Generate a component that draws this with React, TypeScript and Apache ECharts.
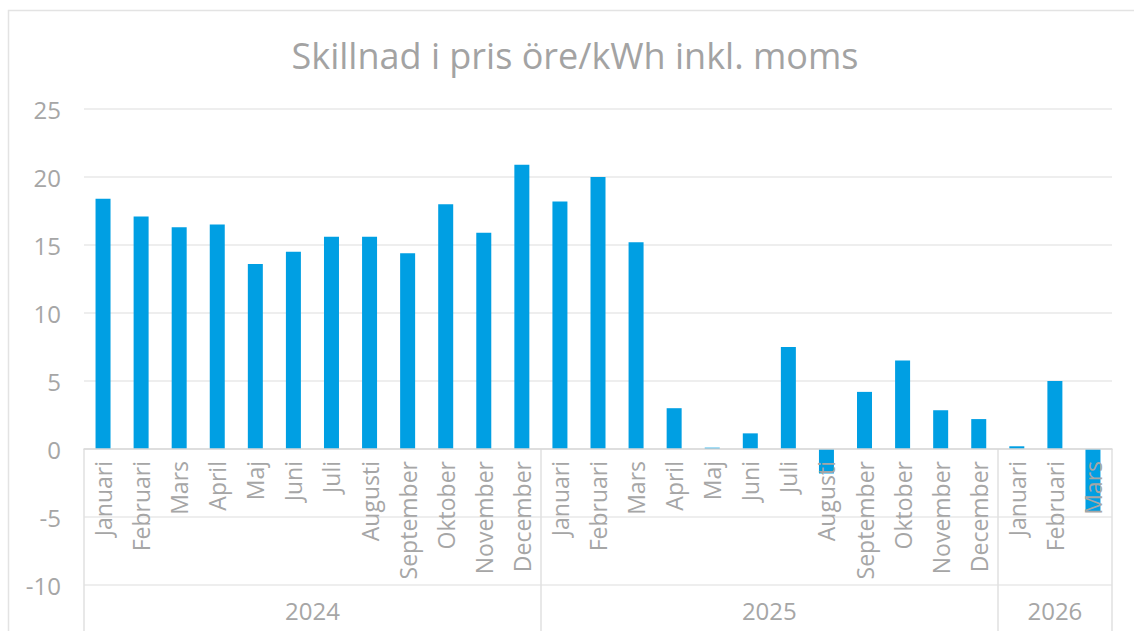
import React, { useEffect, useRef } from "react";
import * as echarts from "echarts";

const TITLE = "Skillnad i pris öre/kWh inkl. moms";
const MONTHS = ["Januari", "Februari", "Mars", "April", "Maj", "Juni", "Juli", "Augusti", "September", "Oktober", "November", "December"];
const YEARS = ["2024", "2025", "2026"];
const YEAR_MONTHS = [12, 12, 3];
const VALUES_2024 = [18.4, 17.1, 16.3, 16.5, 13.6, 14.5, 15.6, 15.6, 14.4, 18.0, 15.9, 20.9];
const VALUES_2025 = [18.2, 20.0, 15.2, 3.0, 0.1, 1.15, 7.5, -1.8, 4.2, 6.5, 2.85, 2.2];
const VALUES_2026 = [0.2, 5.0, -4.6];
const Y_MIN = -10;
const Y_MAX = 25;
const Y_STEP = 5;

const FONT = "'Open Sans', 'Noto Sans', sans-serif";
const GRAY = "#a6a6a6";
const SEP = { color: "#e0e0e0", width: 1.5 };
const GRID_TOP = 109;
const GRID_BOTTOM = 46;
const HEIGHT = 631;

export default function App() {
  const ref = useRef<HTMLDivElement>(null);
  useEffect(() => {
    if (!ref.current) return;
    const chart = echarts.init(ref.current, null, { renderer: "svg" });
    const categories: string[] = [];
    YEAR_MONTHS.forEach((n) => {
      for (let i = 0; i < n; i++) categories.push(MONTHS[i]);
    });
    const values = [...VALUES_2024, ...VALUES_2025, ...VALUES_2026];
    const bounds: number[] = [0];
    const centers: number[] = [];
    let acc = 0;
    YEAR_MONTHS.forEach((n) => {
      centers.push(acc + n / 2);
      acc += n;
      bounds.push(acc);
    });
    const total = acc;
    const plotH = HEIGHT - GRID_TOP - GRID_BOTTOM;
    const zeroFromBottom = ((0 - Y_MIN) / (Y_MAX - Y_MIN)) * plotH;

    chart.setOption({
      animation: false,
      backgroundColor: "#ffffff",
      textStyle: { fontFamily: FONT },
      graphic: [
        {
          type: "rect",
          shape: { x: 8.5, y: 10.5, width: 1135, height: 640 },
          style: { fill: "none", stroke: "#e3e3e3", lineWidth: 1.5 },
          silent: true,
          z: -10,
        },
        {
          type: "text",
          x: 575,
          y: 55,
          style: {
            text: TITLE,
            fill: "#a3a3a3",
            font: `36px ${FONT}`,
            textAlign: "center",
            textVerticalAlign: "middle",
          },
        },
      ],
      grid: { left: 84, right: 22, top: GRID_TOP, bottom: GRID_BOTTOM, outerBoundsMode: "none", containLabel: false },
      xAxis: [
        {
          type: "category",
          data: categories,
          position: "bottom",
          offset: -zeroFromBottom,
          z: 5,
          axisLine: { show: true, onZero: false, lineStyle: { color: "#d9d9d9", width: 1.5 } },
          axisTick: { show: false },
          axisLabel: {
            interval: 0,
            rotate: 90,
            color: GRAY,
            fontSize: 23,
            fontFamily: FONT,
            margin: 12,
          },
          splitLine: { show: false },
        },
        {
          type: "value",
          min: 0,
          max: total,
          position: "bottom",
          axisLine: { show: false, onZero: false },
          axisTick: { show: true, inside: true, length: zeroFromBottom, customValues: bounds, lineStyle: SEP },
          splitLine: { show: false },
          axisLabel: {
            customValues: centers,
            formatter: (v: number) => {
              const i = centers.findIndex((c) => Math.abs(c - v) < 1e-6);
              return i >= 0 ? YEARS[i] : "";
            },
            color: GRAY,
            fontSize: 24,
            fontFamily: FONT,
            margin: 13,
          },
        },
        {
          type: "value",
          min: 0,
          max: total,
          position: "bottom",
          axisLine: { show: false, onZero: false },
          axisTick: { show: true, inside: false, length: 50, customValues: bounds, lineStyle: SEP },
          splitLine: { show: false },
          axisLabel: { show: false },
        },
      ],
      yAxis: {
        type: "value",
        min: Y_MIN,
        max: Y_MAX,
        interval: Y_STEP,
        axisLine: { show: false },
        axisTick: { show: false },
        axisLabel: { color: GRAY, fontSize: 24, fontFamily: FONT, margin: 23 },
        splitLine: { lineStyle: { color: "#e8e8e8", width: 1.5 } },
      },
      series: [
        {
          type: "bar",
          xAxisIndex: 0,
          data: values,
          barWidth: 15,
          itemStyle: { color: "#009FE3" },
        },
      ],
    });
    return () => chart.dispose();
  }, []);
  return (
    <div
      ref={ref}
      style={{ position: "absolute", left: 0, top: 0, width: 1134, height: 631 }}
    />
  );
}
